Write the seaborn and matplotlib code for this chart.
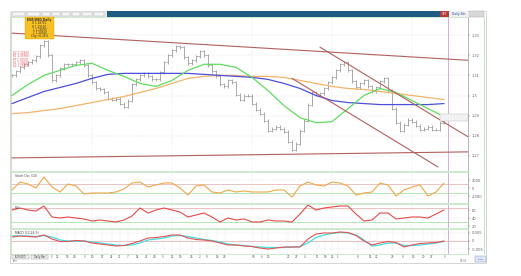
import numpy as np
import pandas as pd
import matplotlib
matplotlib.use("Agg")
import matplotlib.pyplot as plt
from matplotlib.patches import Rectangle
from matplotlib.lines import Line2D
import seaborn as sns

# ---------------- data ----------------
close = [1.3100, 1.3120, 1.3140, 1.3155, 1.3165, 1.3175, 1.3195, 1.3250, 1.3270, 1.3200,
         1.3075, 1.3100, 1.3135, 1.3155, 1.3155, 1.3155, 1.3165, 1.3175, 1.3150, 1.3100,
         1.3065, 1.3035, 1.3030, 1.3015, 1.2985, 1.2980, 1.2985, 1.2960, 1.2945, 1.2975,
         1.3055, 1.3080, 1.3100, 1.3110, 1.3095, 1.3080, 1.3080, 1.3115, 1.3165, 1.3200,
         1.3225, 1.3245, 1.3240, 1.3190, 1.3160, 1.3175, 1.3195, 1.3220, 1.3200, 1.3150,
         1.3120, 1.3095, 1.3055, 1.3045, 1.3075, 1.3065, 1.3005, 1.2980, 1.3000, 1.3000,
         1.2960, 1.2930, 1.2910, 1.2875, 1.2825, 1.2835, 1.2845, 1.2835, 1.2820, 1.2770,
         1.2730, 1.2760, 1.2825, 1.2875, 1.2955, 1.3015, 1.3005, 1.3010, 1.3035, 1.3065,
         1.3090, 1.3125, 1.3155, 1.3165, 1.3125, 1.3070, 1.3040, 1.3060, 1.3075, 1.3045,
         1.3020, 1.3040, 1.3070, 1.3085, 1.3025, 1.2935, 1.2865, 1.2825, 1.2855, 1.2880,
         1.2870, 1.2850, 1.2830, 1.2835, 1.2845, 1.2830, 1.2830, 1.2865, 1.2895]

ma_fast = [1.3000, 1.3055, 1.3100, 1.3125, 1.3150, 1.3160, 1.3125, 1.3095, 1.3060, 1.3045,
           1.3075, 1.3125, 1.3155, 1.3155, 1.3140, 1.3090, 1.3025, 1.2950, 1.2890, 1.2865,
           1.2870, 1.2935, 1.3000, 1.3035, 1.3015, 1.2975, 1.2935, 1.2895]
ma_mid = [1.2960, 1.2990, 1.3020, 1.3040, 1.3060, 1.3085, 1.3105, 1.3110, 1.3110, 1.3110,
          1.3110, 1.3110, 1.3105, 1.3100, 1.3095, 1.3090, 1.3080, 1.3060, 1.3035, 1.3000,
          1.2975, 1.2965, 1.2960, 1.2955, 1.2955, 1.2955, 1.2955, 1.2960]
ma_slow = [1.2910, 1.2915, 1.2925, 1.2935, 1.2950, 1.2965, 1.2980, 1.2995, 1.3015, 1.3035,
           1.3060, 1.3085, 1.3095, 1.3100, 1.3100, 1.3095, 1.3095, 1.3090, 1.3075, 1.3060,
           1.3045, 1.3035, 1.3030, 1.3020, 1.3010, 1.3000, 1.2990, 1.2980]

# trend lines: [start bar, end bar], [start price, end price]
top_line_x, top_line_y = [0, 114], [1.3310, 1.3175]
base_line_x, base_line_y = [0, 114], [1.2690, 1.2720]
chan_up_x, chan_up_y = [77, 114], [1.3240, 1.2795]
chan_lo_x, chan_lo_y = [70, 106.5], [1.3085, 1.2645]
last_bar = 109

osc = [-500, 1500, 1000, 0, 2750, 250, -1000, 1000, 500, -1500,
       -1250, -1250, -1250, -1000, -250, 1250, 1500, 250, 750, 1250,
       1250, 0, -1750, 500, 750, -1000, -1250, -500, -1000, -750,
       -1000, -1000, -1000, -500, -500, -2250, 500, 1500, 750, 500,
       1500, 1250, 500, -1750, -1250, -1000, 1250, 750, -2000, -500,
       250, 750, -2000, -1000, 1250]
osc_hi, osc_lo = 1000, -1250

rsi = [60, 65, 60, 57.5, 70, 42.5, 40, 42.5, 40, 37.5,
       32.5, 35, 32.5, 30, 35, 45, 65, 52.5, 60, 65,
       60, 55, 42.5, 47.5, 52.5, 42.5, 30, 40, 35, 37.5,
       30, 30, 35, 32.5, 32.5, 30, 50, 72.5, 60, 65,
       67.5, 70, 70, 50, 32.5, 35, 52.5, 52.5, 37.5, 40,
       42.5, 42.5, 40, 50, 60]
rsi_hi, rsi_lo = 65, 30

macd = [0.0024, 0.0030, 0.0027, 0.0024, 0.0036, 0.0012, -0.0003, -0.0003, 0.0003, 0.0,
        -0.0012, -0.0018, -0.0024, -0.0030, -0.0027, -0.0015, 0.0, 0.0018, 0.0021, 0.0027,
        0.0036, 0.0036, 0.0018, 0.0009, 0.0006, 0.0, -0.0012, -0.0024, -0.0024, -0.0030,
        -0.0033, -0.0042, -0.0048, -0.0042, -0.0036, -0.0036, -0.0036, 0.0012, 0.0042, 0.0048,
        0.0048, 0.0054, 0.0051, 0.0033, 0.0, -0.0024, -0.0012, -0.0003, -0.0009, -0.0036,
        -0.0024, -0.0015, -0.0012, -0.0009, 0.0]
signal = [0.0030, 0.0030, 0.0030, 0.0027, 0.0033, 0.0024, 0.0006, 0.0, 0.0, 0.0,
          -0.0006, -0.0012, -0.0018, -0.0024, -0.0027, -0.0024, -0.0012, 0.0006, 0.0012, 0.0018,
          0.0030, 0.0033, 0.0027, 0.0018, 0.0009, 0.0003, -0.0006, -0.0018, -0.0024, -0.0027,
          -0.0033, -0.0036, -0.0039, -0.0039, -0.0039, -0.0036, -0.0033, -0.0012, 0.0021, 0.0036,
          0.0045, 0.0051, 0.0048, 0.0036, 0.0006, -0.0030, -0.0024, -0.0012, -0.0012, -0.0027,
          -0.0027, -0.0024, -0.0018, -0.0012, -0.0003]

price_ticks = [1.33, 1.32, 1.31, 1.30, 1.29, 1.28, 1.27]
price_labels = ["1.33", "1.32", "1.31", "1.3", "1.29", "1.28", "1.27"]
osc_ticks, osc_labels = [2000, 0, -2000], ["2000", "0", "-2000"]
rsi_ticks, rsi_labels = [60, 40, 20], ["60", "40", "20"]
macd_ticks, macd_labels = [0.005, 0, -0.005], ["0.005", "0", "-0.005"]
date_ticks = [10, 11.25, 13.75, 15.75, 18.25, 20, 22.5, 25, 27, 29, 31.25, 33.75, 35.75,
              37.75, 40, 42, 45, 47, 48.75, 51.25, 53.25, 60.25, 62.5, 64, 69, 71.25, 73.25,
              76.25, 78.25, 80, 81.5, 86.5, 89.5, 91.25, 95.25, 97.75, 100.25, 102.75, 105, 108.25]
date_labels = ["5", "12", "19", "26", "3", "10", "17", "24", "31", "7", "14", "21", "28",
               "5", "12", "19", "26", "2", "9", "16", "23", "30", "6", "13", "20", "27", "4",
               "11", "18", "25", "1", "8", "15", "22", "29", "6", "13", "20", "27", "3"]
legend_lines = ["EUR/USD Daily", "O 1.28710", "H 1.29120", "L 1.28590", "C 1.28950", "Chg +0.24%"]
level_lines = ["R2 1.32840", "R1 1.31960", "PP 1.30970", "S1 1.30040", "S2 1.29150"]
panel_titles = ["Stoch Osc (14)", "RSI", "MACD (12,26,9)"]

# ---------------- figure ----------------
sns.set_style("white")
plt.rcParams['font.family'] = ['DejaVu Sans']
W, H = 521, 276
fig = plt.figure(figsize=(W / 100, H / 100), dpi=100)
fig.patch.set_facecolor("white")


def box(x0, y0, x1, y1):
    return [x0 / W, 1 - y1 / H, (x1 - x0) / W, (y1 - y0) / H]


def frect(x0, y0, x1, y1, fc, ec="none", lw=0.0, z=-5):
    fig.patches.append(Rectangle((x0 / W, 1 - y1 / H), (x1 - x0) / W, (y1 - y0) / H,
                                 transform=fig.transFigure, facecolor=fc, edgecolor=ec,
                                 lw=lw, zorder=z))


def fline(x0, y0, x1, y1, color, lw=0.6):
    fig.add_artist(Line2D([x0 / W, x1 / W], [1 - y0 / H, 1 - y1 / H],
                          transform=fig.transFigure, color=color, lw=lw, zorder=5))


# outer frame and header strip
frect(10, 11, 486, 263, "#ffffff", ec="#cfcfcf", lw=0.6, z=-10)
frect(10, 11, 107, 17, "#e6e6e6")
frect(107, 11, 440, 17, "#1e5b80")
frect(440, 11, 449, 17, "#b83a3a")
frect(450, 11, 468, 17, "#eef0f4")
frect(469, 11, 484, 17, "#d8d8d8", ec="#aaaaaa", lw=0.3)
for bx in [(12, 25), (27, 40), (42, 50), (52, 60), (62, 70), (72, 80), (82, 92), (94, 104)]:
    frect(bx[0], 12, bx[1], 16, "#f4f4f4", ec="#b0b0b0", lw=0.3)
fig.text(445 / W, 1 - 14.2 / H, "SET", fontsize=2.2, color="white", ha="center", va="center")
fig.text(459 / W, 1 - 14.2 / H, "Daily Bar", fontsize=2.2, color="#2a4a90", ha="center", va="center")
fline(484, 17, 484, 254, "#b8e2b8", 0.6)

bar_x = np.arange(len(close))
ma_x = np.arange(0, len(close), 4)
osc_x = np.arange(0, len(close), 2)
xlim = (-0.25, 114)
grid_kw = dict(color="#d4d4d4", lw=0.35, ls=":")


def style_axis(ax, ticks, labels):
    ax.set_xlim(*xlim)
    ax.yaxis.tick_right()
    ax.set_yticks(ticks)
    ax.set_yticklabels(labels)
    ax.tick_params(axis="y", labelsize=2.6, length=1.5, width=0.3, colors="#666666", pad=1)
    ax.tick_params(axis="x", length=0, labelbottom=False)
    for s in ["left", "top", "bottom"]:
        ax.spines[s].set_color("#b8e2b8")
        ax.spines[s].set_linewidth(0.5)
    ax.spines["right"].set_color("#999999")
    ax.spines["right"].set_linewidth(0.5)
    ax.set_xlabel("")
    ax.set_ylabel("")
    ax.grid(True, **grid_kw)
    ax.axvline(last_bar, color="#c9a2d9", lw=0.6)


# ---------------- main price panel ----------------
ax = fig.add_axes(box(11, 17, 468, 171))
opens = [close[0]] + close[:-1]
hi = [max(o, c) + 0.0007 for o, c in zip(opens, close)]
lo = [min(o, c) - 0.0007 for o, c in zip(opens, close)]
ax.vlines(bar_x, lo, hi, color="#9c9c9c", lw=0.6, zorder=2)
ax.hlines(opens, bar_x - 0.4, bar_x, color="#9c9c9c", lw=0.5, zorder=2)
ax.hlines(close, bar_x, bar_x + 0.4, color="#9c9c9c", lw=0.5, zorder=2)

sns.lineplot(x=ma_x, y=ma_slow, ax=ax, color="#f2b36a", lw=0.9, zorder=3)
sns.lineplot(x=ma_x, y=ma_mid, ax=ax, color="#4d4fdc", lw=0.9, zorder=3)
sns.lineplot(x=ma_x, y=ma_fast, ax=ax, color="#5fdc5f", lw=0.9, zorder=3)
for tx, ty in [(top_line_x, top_line_y), (base_line_x, base_line_y),
               (chan_up_x, chan_up_y), (chan_lo_x, chan_lo_y)]:
    sns.lineplot(x=tx, y=ty, ax=ax, color="#b25f5f", lw=0.8, zorder=4)
ax.set_ylim(1.2625, 1.339)
style_axis(ax, price_ticks, price_labels)

# yellow info box and level labels
frect(25, 17, 54, 39, "#f7c023", ec="#e0a800", lw=0.3, z=5)
for i, t in enumerate(legend_lines):
    fig.text(39.5 / W, 1 - (20 + i * 3.3) / H, t, fontsize=2.0 if i else 2.2,
             color="#333333", ha="center", va="center",
             fontweight="bold" if i == 0 else "normal", zorder=6)
for i, t in enumerate(level_lines):
    fig.text(13 / W, 1 - (53 + i * 3.3) / H, t, fontsize=2.0, color="#e05a5a",
             ha="left", va="center", zorder=6)
frect(440, 114, 468, 121, "#f2f2f2", ec="#b8b8b8", lw=0.3, z=5)

# ---------------- oscillator panel ----------------
ax1 = fig.add_axes(box(11, 172, 468, 203))
ax1.axhline(osc_hi, color="#e6b8b8", lw=0.6)
ax1.axhline(osc_lo, color="#a8e0a8", lw=0.6)
sns.lineplot(x=osc_x, y=osc, ax=ax1, color="#f0a748", lw=0.8)
ax1.set_ylim(-3750, 4000)
style_axis(ax1, osc_ticks, osc_labels)
ax1.text(0.008, 0.93, panel_titles[0], transform=ax1.transAxes, fontsize=2.2,
         color="#444444", va="top")

# ---------------- RSI panel ----------------
ax2 = fig.add_axes(box(11, 204, 468, 228))
ax2.axhline(rsi_hi, color="#e6b8b8", lw=0.6)
ax2.axhline(rsi_lo, color="#a8e0a8", lw=0.6)
sns.lineplot(x=osc_x, y=rsi, ax=ax2, color="#e44a4a", lw=0.8)
ax2.set_ylim(15, 75)
style_axis(ax2, rsi_ticks, rsi_labels)
ax2.text(0.008, 0.93, panel_titles[1], transform=ax2.transAxes, fontsize=2.2,
         color="#444444", va="top")

# ---------------- MACD panel ----------------
ax3 = fig.add_axes(box(11, 229, 468, 254))
ax3.axhline(0, color="#e6b8b8", lw=0.6)
sns.lineplot(x=osc_x, y=signal, ax=ax3, color="#3fe0e6", lw=0.9)
sns.lineplot(x=osc_x, y=macd, ax=ax3, color="#e65050", lw=0.8)
ax3.set_ylim(-0.0078, 0.0072)
style_axis(ax3, macd_ticks, macd_labels)
ax3.text(0.008, 0.93, panel_titles[2], transform=ax3.transAxes, fontsize=2.2,
         color="#444444", va="top")
ax3.set_xticks(date_ticks)
ax3.set_xticklabels(date_labels)
ax3.tick_params(axis="x", labelbottom=True, labelsize=2.0, colors="#555555", pad=0.8)

# bottom strip items
frect(12, 254.5, 29, 259, "#f0f0f0", ec="#999999", lw=0.3, z=5)
frect(31, 254.5, 48, 259, "#f0f0f0", ec="#999999", lw=0.3, z=5)
fig.text(20.5 / W, 1 - 256.8 / H, "EUR/USD", fontsize=1.8, color="#333333", ha="center", va="center", zorder=6)
fig.text(39.5 / W, 1 - 256.8 / H, "Daily Bar", fontsize=1.8, color="#333333", ha="center", va="center", zorder=6)
fig.text(13 / W, 1 - 261 / H, "Info", fontsize=1.8, color="#777777", ha="left", va="center")
fig.text(463 / W, 1 - 260.5 / H, "18:02", fontsize=1.8, color="#777777", ha="center", va="center")
frect(475, 256, 486, 262, "#dfe8f5", ec="#7a8fb8", lw=0.3, z=5)
fig.text(480.5 / W, 1 - 259 / H, "zoom", fontsize=1.6, color="#2a4a90", ha="center", va="center", zorder=6)

fig.savefig("out.png", dpi=100, facecolor="white")
